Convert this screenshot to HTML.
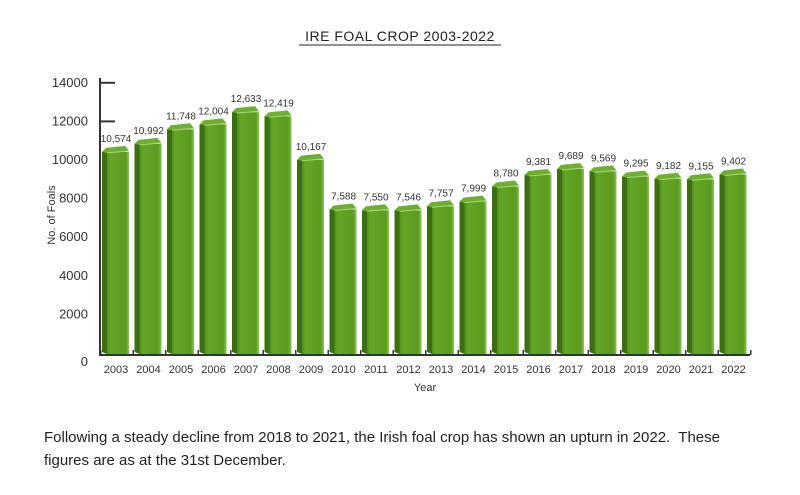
<!DOCTYPE html>
<html><head><meta charset="utf-8"><style>
body{margin:0;background:#fff;font-family:"Liberation Sans",sans-serif;}
#wrap{position:relative;width:800px;height:495px;overflow:hidden;}
#note{position:absolute;left:44px;top:426px;width:720px;font-size:15px;line-height:23px;color:#222;}
</style></head><body>
<div id="wrap">
<svg id="chart" width="800" height="410"></svg>
<div id="note">Following a steady decline from 2018 to 2021, the Irish foal crop has shown an upturn in 2022.&nbsp; These figures are as at the 31st December.</div>
</div>
<script>
const categories=["2003","2004","2005","2006","2007","2008","2009","2010","2011","2012","2013","2014","2015","2016","2017","2018","2019","2020","2021","2022"];
const values=[10574,10992,11748,12004,12633,12419,10167,7588,7550,7546,7757,7999,8780,9381,9689,9569,9295,9182,9155,9402];
const valueLabels=["10,574","10,992","11,748","12,004","12,633","12,419","10,167","7,588","7,550","7,546","7,757","7,999","8,780","9,381","9,689","9,569","9,295","9,182","9,155","9,402"];
const yTicks=[0,2000,4000,6000,8000,10000,12000,14000];
const NS="http://www.w3.org/2000/svg";
const svg=document.getElementById('chart');
const base=353, k=0.0193;
const y=v=>base-v*k;
const x0=116, step=32.5;
const xc=i=>x0+i*step;
function mk(t,a,p){const e=document.createElementNS(NS,t);for(const n in a)e.setAttribute(n,a[n]);(p||svg).appendChild(e);return e;}
const defs=mk('defs',{});
const g=mk('linearGradient',{id:'front',x1:0,x2:1,y1:0,y2:0},defs);
mk('stop',{offset:'0','stop-color':'#4f8f1c'},g);mk('stop',{offset:'0.15','stop-color':'#63a625'},g);mk('stop',{offset:'0.85','stop-color':'#5b9b20'},g);mk('stop',{offset:'1','stop-color':'#8cc25a'},g);
// title
const t=mk('text',{x:400,y:41,'text-anchor':'middle','font-size':14,fill:'#222','letter-spacing':'0.5'});
t.textContent='IRE FOAL CROP 2003-2022';

const ul=mk('line',{x1:299,x2:501,y1:45,y2:45,stroke:'#222','stroke-width':1});

// y axis
const ya=mk('line',{x1:100,x2:100,y1:78,y2:355,stroke:'#333','stroke-width':2});

yTicks.forEach(v=>{
  const yy=y(v);
  if(v>=12000){const tk=mk('line',{x1:100,x2:115,y1:yy,y2:yy,stroke:'#333','stroke-width':2});}
  const l=mk('text',{x:88,y:yy+(v===0?9:0)+4,'text-anchor':'end','font-size':13,fill:'#333'});
  l.textContent=v;
  
});
const yt=mk('text',{transform:'translate(55,215) rotate(-90)','text-anchor':'middle','font-size':11,fill:'#333'});
yt.textContent='No. of Foals';
// bars
values.forEach((v,i)=>{
  const c=xc(i), top=y(v);
  const grp=mk('g',{});
  
  mk('polygon',{points:`${c-14},${top+3} ${c-9},${top+3} ${c-9},${base+1} ${c-14},${base-1}`,fill:'#3c6e14'},grp);
  mk('rect',{x:c-9,y:top+3,width:22,height:base+1-top-3,fill:'url(#front)'},grp);
  mk('polygon',{points:`${c-14},${top+3} ${c-10},${top-1} ${c+9},${top-3} ${c+13},${top+2} ${c-9},${top+4}`,fill:'#6fae34'},grp);
  mk('line',{x1:c-9,x2:c+13,y1:top+4,y2:top+2,stroke:'#a8d67c','stroke-width':1},grp);
  const lb=mk('text',{x:c,y:top-7,'text-anchor':'middle','font-size':10,fill:'#333'});
  lb.textContent=valueLabels[i];
  
  const xl=mk('text',{x:c,y:373,'text-anchor':'middle','font-size':11,fill:'#333'});
  xl.textContent=categories[i];
  
});
const xa=mk('line',{x1:99,x2:750,y1:355,y2:355,stroke:'#333','stroke-width':2});

for(let i=0;i<=categories.length;i++){
  const xx=xc(i)-step/2+1;
  const tk=mk('line',{x1:xx,x2:xx,y1:350,y2:355,stroke:'#333','stroke-width':1.5});
  
}
const xt=mk('text',{x:425,y:391,'text-anchor':'middle','font-size':11,fill:'#333'});
xt.textContent='Year';
</script>
</body></html>
